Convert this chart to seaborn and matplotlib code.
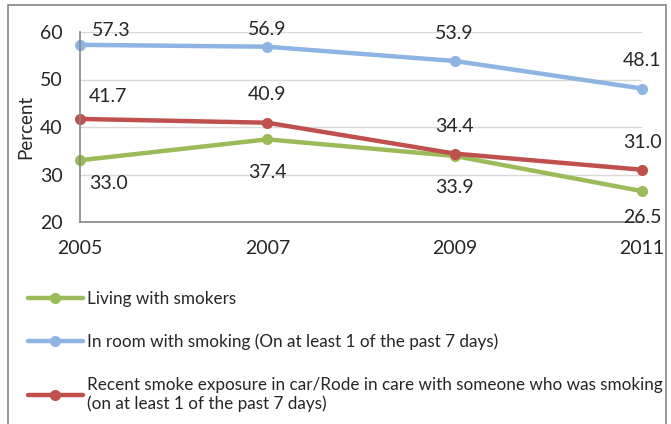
import pandas as pd
import numpy as np
import matplotlib.pyplot as plt
import seaborn as sns
from matplotlib.patches import Rectangle

# data
years = [2005, 2007, 2009, 2011]
living = [33.0, 37.4, 33.9, 26.5]
in_room = [57.3, 56.9, 53.9, 48.1]
in_car = [41.7, 40.9, 34.4, 31.0]

series_names = ["Living with smokers",
                "In room with smoking (On at least 1 of the past 7 days)",
                "Recent smoke exposure in car/Rode in care with someone who was smoking\n(on at least 1 of the past 7 days)"]
colors = ["#9BBB59", "#8DB4E2", "#C0504D"]

df = pd.DataFrame({
    "Year": years * 3,
    "Percent": living + in_room + in_car,
    "Series": [series_names[0]] * 4 + [series_names[1]] * 4 + [series_names[2]] * 4,
})

sns.set_style("white")
plt.rcParams['font.family'] = ['Lato', 'DejaVu Sans']

fig = plt.figure(figsize=(6.71, 4.24), dpi=100)
ax = fig.add_axes([80 / 671, 1 - 222 / 424, (642 - 80) / 671, (222 - 32) / 424])

sns.lineplot(data=df, x="Year", y="Percent", hue="Series", palette=colors,
             marker="o", markersize=8, markeredgewidth=0, linewidth=3.2,
             ax=ax, legend=False, clip_on=False)

ax.set_xlim(2005, 2011)
ax.set_ylim(20, 60)
ax.set_xticks(years)
ax.set_yticks([20, 30, 40, 50, 60])
ax.set_xlabel("")
ax.set_ylabel("Percent", fontsize=13.5, labelpad=4)
ax.tick_params(axis="both", labelsize=14, length=5, color="#868686", direction="out")
ax.tick_params(axis="x", pad=8)
ax.tick_params(axis="y", pad=7.5)
ax.grid(axis="y", color="#D9D9D9", linewidth=1)
for s in ["top", "right"]:
    ax.spines[s].set_visible(False)
for s in ["left", "bottom"]:
    ax.spines[s].set_color("#868686")
    ax.spines[s].set_linewidth(1.2)

# data labels: (dx in px, dy in px) from the point
offsets_living = [(28, -22), (0, -32), (0, -30), (0, -25)]
offsets_room = [(31, 16), (0, 19), (0, 29), (0, 30)]
offsets_car = [(28, 24), (0, 30), (0, 29), (0, 29)]
for vals, offs in [(living, offsets_living), (in_room, offsets_room), (in_car, offsets_car)]:
    for x, v, (dx, dy) in zip(years, vals, offs):
        ax.annotate(f"{v:.1f}", (x, v), xytext=(dx * 0.72, dy * 0.72),
                    textcoords="offset points", ha="center", va="center_baseline",
                    fontsize=14, annotation_clip=False)

# legend below the plot, one entry per row
handles = [plt.Line2D([0], [0], color=c, linewidth=3.2, marker="o", markersize=8,
                      markeredgewidth=0) for c in colors]
fig.legend(handles, series_names, loc="upper left", bbox_to_anchor=(28 / 671, 1 - 291 / 424),
           frameon=False, fontsize=12.3, handlelength=3.2, labelspacing=1.55,
           handletextpad=0.25, borderaxespad=0, borderpad=0)

# outer chart border
fig.patches.append(Rectangle((8 / 671, -0.05), (666 - 8) / 671, 1 - 5 / 424 + 0.05,
                             transform=fig.transFigure, fill=False,
                             edgecolor="#868686", linewidth=1.2))

fig.savefig("out.png", dpi=100)
